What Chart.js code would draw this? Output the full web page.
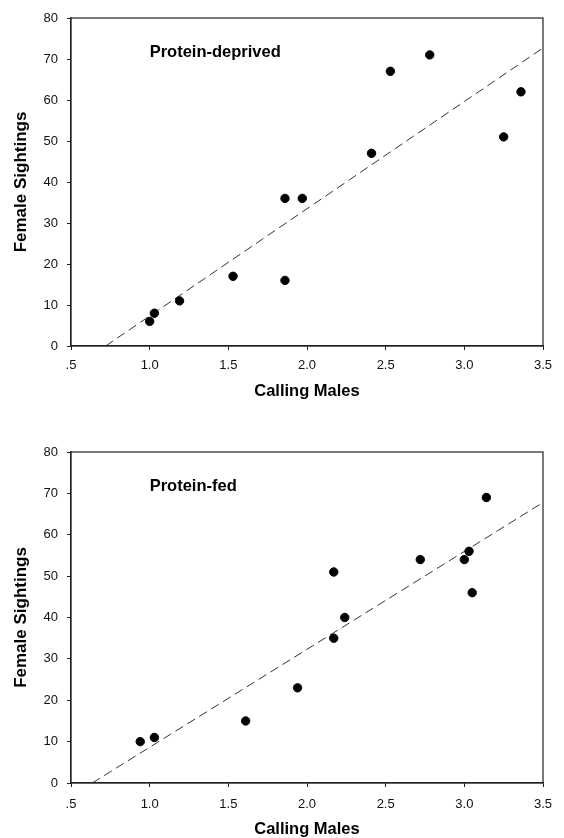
<!DOCTYPE html>
<html>
<head>
<meta charset="utf-8">
<script src="https://cdn.jsdelivr.net/npm/chart.js@4.4.1/dist/chart.umd.min.js"></script>
<style>
  html, body { margin: 0; padding: 0; background: #fff; }
  .panel { position: absolute; left: 0; width: 564px; }
  #top { top: 0; height: 420px; }
  #bottom { top: 420px; height: 418px; }
</style>
</head>
<body>
<div class="panel" id="top"><canvas id="c1"></canvas></div>
<div class="panel" id="bottom"><canvas id="c2"></canvas></div>
<script>
// tick labels
const xTickLabels = [".5", "1.0", "1.5", "2.0", "2.5", "3.0", "3.5"];
const yTickLabels = ["0", "10", "20", "30", "40", "50", "60", "70", "80"];

// protein-deprived panel
const deprivedMales = [1.0, 1.03, 1.19, 1.53, 1.86, 1.86, 1.97, 2.41, 2.53, 2.78, 3.25, 3.36];
const deprivedFemales = [6, 8, 11, 17, 16, 36, 36, 47, 67, 71, 51, 62];
const deprivedFitX = [0.72, 3.5];
const deprivedFitY = [0, 72.7];

// protein-fed panel
const fedMales = [0.94, 1.03, 1.61, 1.94, 2.17, 2.17, 2.24, 2.72, 3.0, 3.03, 3.05, 3.14];
const fedFemales = [10, 11, 15, 23, 51, 35, 40, 54, 54, 56, 46, 69];
const fedFitX = [0.635, 3.5];
const fedFitY = [0, 67.8];

const FONT = "'Liberation Sans', Arial, sans-serif";

function pairs(xs, ys) {
    return xs.map((x, i) => ({ x: x, y: ys[i] }));
}

// frame around the plot area plus the panel label
const framePlugin = {
    id: "frame",
    afterDraw(chart, args, opts) {
        const { ctx, chartArea: a, scales } = chart;
        ctx.save();
        ctx.strokeStyle = "#222";
        ctx.lineWidth = 1.2;
        ctx.strokeRect(a.left, a.top, a.right - a.left, a.bottom - a.top);
        ctx.fillStyle = "#000";
        ctx.font = "bold 16.5px " + FONT;
        ctx.textAlign = "left";
        ctx.textBaseline = "middle";
        ctx.fillText(opts.label, scales.x.getPixelForValue(1.0), scales.y.getPixelForValue(71.6));
        ctx.restore();
    },
};

function makeChart(id, label, xs, ys, fitX, fitY, pad, xAxisH, tickPad, titlePad) {
    new Chart(document.getElementById(id), {
        type: "scatter",
        data: {
            datasets: [
                {
                    data: pairs(xs, ys),
                    backgroundColor: "#000",
                    borderColor: "#000",
                    pointRadius: 4.2,
                    pointHoverRadius: 4.2,
                },
                {
                    type: "line",
                    data: pairs(fitX, fitY),
                    borderColor: "#333",
                    borderWidth: 1,
                    borderDash: [9, 5],
                    pointRadius: 0,
                    fill: false,
                },
            ],
        },
        plugins: [framePlugin],
        options: {
            responsive: true,
            maintainAspectRatio: false,
            animation: false,
            layout: { padding: { left: 0, right: 21, top: pad, bottom: 0 } },
            plugins: {
                legend: { display: false },
                tooltip: { enabled: false },
                frame: { label: label },
            },
            scales: {
                x: {
                    type: "linear",
                    min: 0.5,
                    max: 3.5,
                    afterFit: (s) => { s.height = xAxisH; },
                    ticks: {
                        stepSize: 0.5,
                        padding: tickPad,
                        color: "#111",
                        font: { family: FONT, size: 13 },
                        maxRotation: 0,
                        callback: (v, i) => xTickLabels[i],
                    },
                    grid: { display: true, drawOnChartArea: false, tickLength: 4, color: "#222" },
                    border: { color: "#222", width: 1.2 },
                    title: {
                        display: true,
                        text: "Calling Males",
                        color: "#000",
                        font: { family: FONT, size: 16.5, weight: "bold" },
                        padding: { top: 0, bottom: titlePad },
                    },
                },
                y: {
                    min: 0,
                    max: 80,
                    afterFit: (s) => { s.width = 71; },
                    ticks: {
                        stepSize: 10,
                        padding: 9,
                        color: "#111",
                        font: { family: FONT, size: 13 },
                        callback: (v, i) => yTickLabels[i],
                    },
                    grid: { display: true, drawOnChartArea: false, tickLength: 4, color: "#222" },
                    border: { color: "#222", width: 1.2 },
                    title: {
                        display: true,
                        text: "Female Sightings",
                        color: "#000",
                        font: { family: FONT, size: 17, weight: "bold" },
                        padding: { top: 11, bottom: 0 },
                    },
                },
            },
        },
    });
}

makeChart("c1", "Protein-deprived", deprivedMales, deprivedFemales, deprivedFitX, deprivedFitY, 18, 74, 8, 19);
makeChart("c2", "Protein-fed", fedMales, fedFemales, fedFitX, fedFitY, 32, 55, 10, -1);
</script>
</body>
</html>
